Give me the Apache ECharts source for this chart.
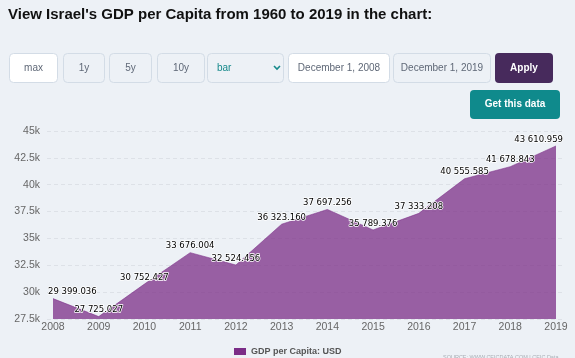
<!DOCTYPE html>
<html><head><meta charset="utf-8">
<script src="https://cdn.jsdelivr.net/npm/echarts@6/dist/echarts.min.js"></script>
<style>html,body{margin:0;padding:0;background:#edf1f6;}#c{width:575px;height:358px;}</style>
</head><body><div id="c"></div>
<script>
const titleText = "View Israel's GDP per Capita from 1960 to 2019 in the chart:";
const years = [2008, 2009, 2010, 2011, 2012, 2013, 2014, 2015, 2016, 2017, 2018, 2019];
const gdpValues = [29399.036, 27725.027, 30752.427, 33676.004, 32524.456, 36323.160, 37697.256, 35789.376, 37333.208, 40555.585, 41678.843, 43610.959];
const seriesName = 'GDP per Capita: USD';
const buttonLabels = ['max', '1y', '5y', '10y'];
const selectLabel = 'bar';
const dateFrom = 'December 1, 2008';
const dateTo = 'December 1, 2019';
const applyLabel = 'Apply';
const getDataLabel = 'Get this data';
const sourceText = 'SOURCE: WWW.CEICDATA.COM | CEIC Data';

function fmt(v) {
  const s = v.toFixed(3);
  const [a, b] = s.split('.');
  return a.replace(/\B(?=(\d{3})+(?!\d))/g, ' ') + '.' + b;
}

const PURPLE = '#7b2d87';
const BG = '#edf1f6';
const BORDER = '#d3dce6';
const FONT = '"Liberation Sans", Arial, sans-serif';

function box(x, y, w, h, fill, stroke) {
  return { type: 'rect', shape: { x, y, width: w, height: h, r: 4 }, style: { fill, stroke: stroke || null, lineWidth: 1 }, silent: true };
}
function txt(x, y, t, color, font, align) {
  return { type: 'text', x, y, style: { text: t, fill: color, font, align: align || 'center', verticalAlign: 'middle' }, silent: true };
}

const btnRects = [[9, 48], [63, 41], [109, 42], [157, 47]];
const graphics = [];
graphics.push(txt(8, 14.5, titleText, '#111', 'bold 15px ' + FONT, 'left'));
buttonLabels.forEach((b, i) => {
  const [x, w] = btnRects[i];
  graphics.push(box(x + 0.5, 53.5, w, 29, i === 0 ? '#ffffff' : BG, BORDER));
  graphics.push(txt(x + w / 2 + 0.5, 68, b, '#5f6877', '10px ' + FONT));
});
graphics.push(box(207.5, 53.5, 76, 29, BG, BORDER));
graphics.push(txt(217, 68, selectLabel, '#16898b', '10px ' + FONT, 'left'));
graphics.push({ type: 'polyline', shape: { points: [[274, 66], [277, 69], [280, 66]] }, style: { stroke: '#16898b', lineWidth: 1.6, fill: null }, silent: true });
graphics.push(box(288.5, 53.5, 101, 29, '#ffffff', BORDER));
graphics.push(txt(339, 68, dateFrom, '#5f6877', '10px ' + FONT));
graphics.push(box(393.5, 53.5, 97, 29, BG, BORDER));
graphics.push(txt(442, 68, dateTo, '#5f6877', '10px ' + FONT));
graphics.push(box(495, 53, 58, 30, '#472a5c'));
graphics.push(txt(524, 68, applyLabel, '#ffffff', 'bold 10px ' + FONT));
graphics.push(box(470, 90, 90, 29, '#0f8a8c'));
graphics.push(txt(515, 104.5, getDataLabel, '#ffffff', 'bold 10px ' + FONT));
graphics.push(txt(443, 357, sourceText, '#a9aeb5', '5.5px ' + FONT, 'left'));

const n = years.length;
const seriesData = years.map((y, i) => {
  const d = { value: [y, gdpValues[i]] };
  if (i === 0) d.label = { align: 'left', offset: [-5, 0] };
  if (i === n - 1) d.label = { align: 'right', offset: [7, 0] };
  return d;
});

const chart = echarts.init(document.getElementById('c'), null, { renderer: 'canvas' });
chart.setOption({
  animation: false,
  backgroundColor: BG,
  graphic: graphics,
  legend: {
    left: 229, top: 342, itemWidth: 12, itemHeight: 7, itemGap: 4,
    icon: 'rect',
    textStyle: { color: '#555', fontWeight: 'bold', fontSize: 9, fontFamily: FONT },
    data: [seriesName]
  },
  grid: { left: 47, right: 13, top: 131, bottom: 39 },
  xAxis: {
    type: 'value', min: 2007.869, max: 2019.131,
    axisLine: { show: false }, axisTick: { show: false }, splitLine: { show: false },
    axisLabel: { customValues: years, formatter: v => String(Math.round(v)), color: '#666', fontSize: 10.5, fontFamily: FONT, margin: 3 }
  },
  yAxis: {
    type: 'value', min: 27500, max: 45000, interval: 2500,
    axisLine: { show: false }, axisTick: { show: false },
    splitLine: { lineStyle: { color: '#dde1e7', type: [4, 3] } },
    axisLabel: { formatter: v => (v / 1000) + 'k', color: '#666', fontSize: 10.5, fontFamily: FONT, margin: 7 }
  },
  series: [{
    name: seriesName, type: 'line', data: seriesData,
    symbol: 'circle', symbolSize: 0, showSymbol: true,
    itemStyle: { color: PURPLE },
    lineStyle: { color: PURPLE, width: 1, opacity: 0.55 },
    areaStyle: { color: PURPLE, opacity: 0.75 },
    label: {
      show: true, position: 'top', distance: 2,
      formatter: p => fmt(p.value[1]),
      color: '#000', fontSize: 8.5, fontFamily: '"DejaVu Sans", sans-serif',
      textBorderColor: '#fff', textBorderWidth: 1.5
    }
  }]
});
</script></body></html>
